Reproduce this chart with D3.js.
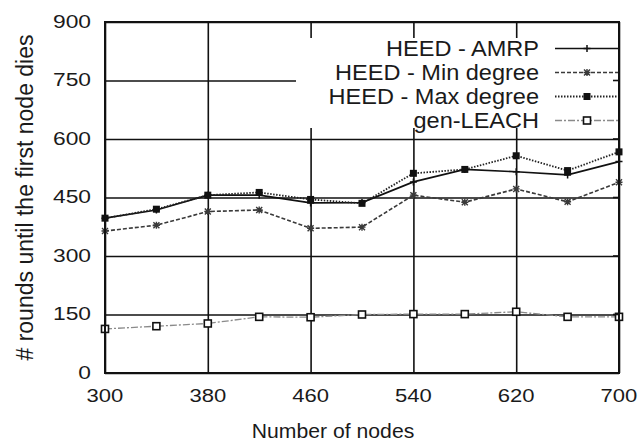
<!DOCTYPE html>
<html>
<head>
<meta charset="utf-8">
<script src="https://cdn.jsdelivr.net/npm/d3@7"></script>
<style>
  body { margin: 0; background: #fff; }
  svg { display: block; }
  text { font-family: "Liberation Sans", Arial, Helvetica, sans-serif; fill: #1a1a1a; }
</style>
</head>
<body>
<svg id="chart" width="639" height="441"></svg>
<script>
// Network sizes (x) and rounds until the first node dies (y) per protocol
const nodes     = [300, 340, 380, 420, 460, 500, 540, 580, 620, 660, 700];
const heedAmrp  = [397, 418, 456, 456, 436, 437, 490, 522, 516, 508, 542];
const heedMin   = [364, 379, 414, 418, 371, 374, 456, 438, 472, 439, 489];
const heedMax   = [397, 420, 456, 463, 445, 435, 512, 522, 557, 519, 567];
const genLeach  = [113, 120, 127, 144, 143, 150, 151, 151, 157, 144, 144];

const seriesNames = ["HEED - AMRP", "HEED - Min degree", "HEED - Max degree", "gen-LEACH"];
const xTicks = [300, 380, 460, 540, 620, 700];
const yTicks = [0, 150, 300, 450, 600, 750, 900];

const seriesValues = [heedAmrp, heedMin, heedMax, genLeach];

// Line / marker appearance per series
const looks = [
  { stroke: "#111",    width: 1.7, dash: null,       marker: "plus",    mcolor: "#111" },
  { stroke: "#3a3a3a", width: 1.6, dash: "4,2",      marker: "star",    mcolor: "#3a3a3a" },
  { stroke: "#222",    width: 1.8, dash: "1.5,1.5",  marker: "fsquare", mcolor: "#111" },
  { stroke: "#8a8a8a", width: 1.3, dash: "7,2,2,2",  marker: "osquare", mcolor: "#111" }
];

const svg = d3.select("#chart");
const plotL = 105, plotR = 619, plotT = 22, plotB = 373;

const x = d3.scaleLinear().domain([300, 700]).range([plotL, plotR]);
const y = d3.scaleLinear().domain([0, 900]).range([plotB, plotT]);

// Grid lines
svg.append("g")
  .attr("transform", `translate(0,${plotB})`)
  .call(d3.axisBottom(x).tickValues(xTicks).tickSize(-(plotB - plotT)).tickFormat(""))
  .call(g => g.select(".domain").remove())
  .call(g => g.selectAll("line").attr("stroke", "#111").attr("stroke-width", 1.6));

svg.append("g")
  .attr("transform", `translate(${plotL},0)`)
  .call(d3.axisLeft(y).tickValues(yTicks).tickSize(-(plotR - plotL)).tickFormat(""))
  .call(g => g.select(".domain").remove())
  .call(g => g.selectAll("line").attr("stroke", "#111").attr("stroke-width", 1.6));

// Tick labels
svg.append("g").selectAll("text").data(yTicks).join("text")
  .attr("transform", d => `translate(91,${y(d) + 5.5}) scale(1.2,1)`)
  .attr("text-anchor", "end")
  .style("font-size", "19px")
  .text(d => d);

svg.append("g").selectAll("text").data(xTicks).join("text")
  .attr("transform", d => `translate(${x(d)},402) scale(1.16,1)`)
  .attr("text-anchor", "middle")
  .style("font-size", "19px")
  .text(d => d);

// Axis titles
svg.append("text")
  .attr("transform", "translate(333,438) scale(1.06,1)")
  .attr("text-anchor", "middle")
  .style("font-size", "20px")
  .text("Number of nodes");

svg.append("text")
  .attr("transform", "translate(33,197.5) rotate(-90)")
  .attr("text-anchor", "middle")
  .style("font-size", "23px")
  .text("# rounds until the first node dies");

// Marker drawing
function drawMarker(sel, kind, color) {
  if (kind === "plus") {
    sel.append("path").attr("d", "M-3.5,0H3.5M0,-3.5V3.5")
      .attr("stroke", color).attr("stroke-width", 1.5).attr("fill", "none");
  } else if (kind === "star") {
    sel.append("path").attr("d", "M-3,-3L3,3M-3,3L3,-3M-3.5,0H3.5M0,-3.5V3.5")
      .attr("stroke", color).attr("stroke-width", 1.4).attr("fill", "none");
  } else if (kind === "fsquare") {
    sel.append("rect").attr("x", -3.5).attr("y", -3.5).attr("width", 7).attr("height", 7)
      .attr("fill", color);
  } else if (kind === "osquare") {
    sel.append("rect").attr("x", -3.5).attr("y", -3.5).attr("width", 7).attr("height", 7)
      .attr("fill", "#fff").attr("stroke", color).attr("stroke-width", 1.6);
  }
}

// Data lines
const line = d3.line().x((d, i) => x(nodes[i])).y(d => y(d));
seriesValues.forEach((vals, s) => {
  const lk = looks[s];
  const g = svg.append("g");
  g.append("path").datum(vals)
    .attr("d", line)
    .attr("fill", "none")
    .attr("stroke", lk.stroke)
    .attr("stroke-width", lk.width)
    .attr("stroke-dasharray", lk.dash);
  g.selectAll("g.pt").data(vals).join("g")
    .attr("class", "pt")
    .attr("transform", (d, i) => `translate(${x(nodes[i])},${y(d)})`)
    .each(function () { drawMarker(d3.select(this), lk.marker, lk.mcolor); });
});

// Legend (opaque key box)
svg.append("rect")
  .attr("x", 296).attr("y", 38).attr("width", plotR - 296).attr("height", 90)
  .attr("fill", "#fff");

const legend = svg.append("g");
seriesNames.forEach((name, s) => {
  const lk = looks[s];
  const base = 55.5 + s * 24;
  legend.append("text")
    .attr("transform", `translate(539,${base}) scale(1.07,1)`)
    .attr("text-anchor", "end")
    .style("font-size", "22px")
    .text(name);
  const ly = base - 7;
  legend.append("line")
    .attr("x1", 555).attr("x2", plotR).attr("y1", ly).attr("y2", ly)
    .attr("stroke", lk.stroke).attr("stroke-width", lk.width)
    .attr("stroke-dasharray", lk.dash);
  const m = legend.append("g").attr("transform", `translate(587,${ly})`);
  drawMarker(m, lk.marker, lk.mcolor);
});

// Border and mirrored ticks on the right edge
svg.append("rect")
  .attr("x", plotL).attr("y", plotT).attr("width", plotR - plotL).attr("height", plotB - plotT)
  .attr("fill", "none").attr("stroke", "#111").attr("stroke-width", 2);

svg.append("g").selectAll("line").data(yTicks.filter(v => v > 0 && v < 900)).join("line")
  .attr("x1", plotR - 6).attr("x2", plotR)
  .attr("y1", d => y(d)).attr("y2", d => y(d))
  .attr("stroke", "#111").attr("stroke-width", 1.6);
</script>
</body>
</html>
